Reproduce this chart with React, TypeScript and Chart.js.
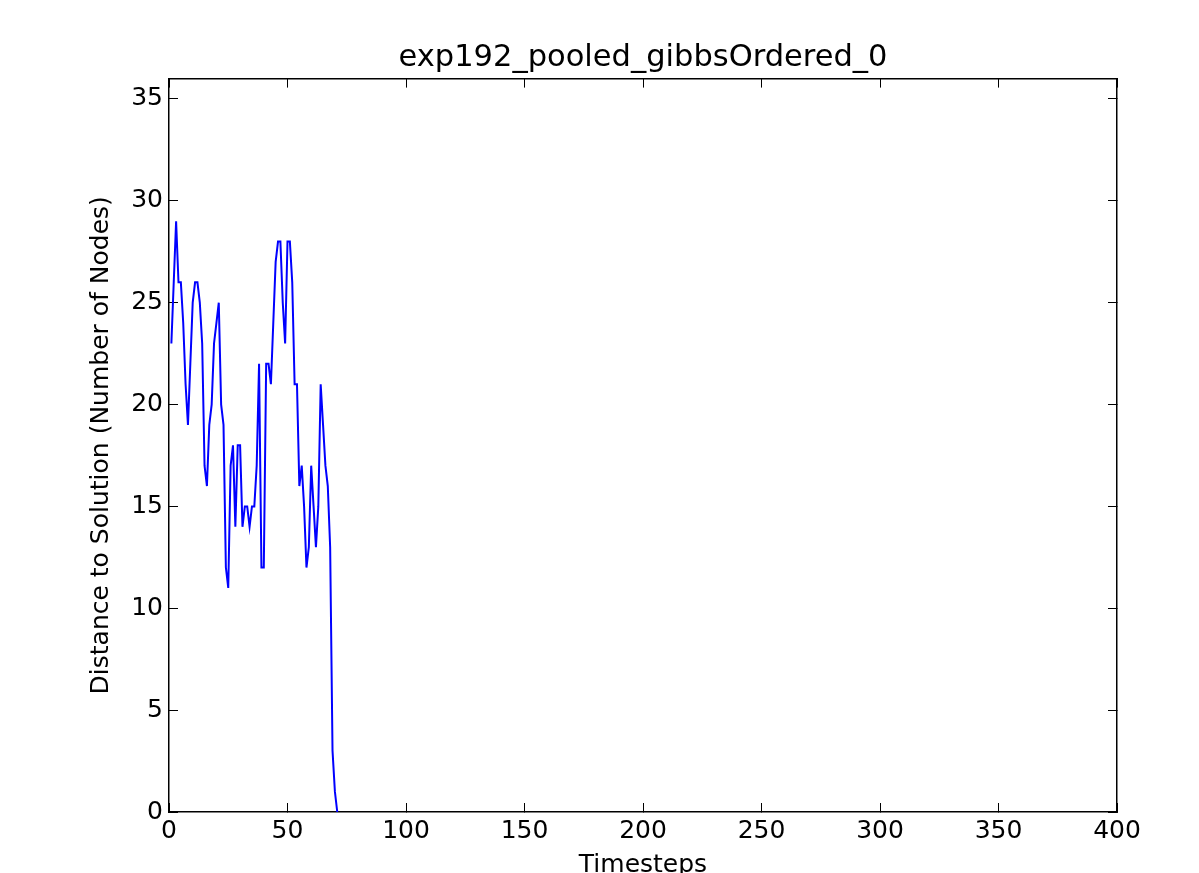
import React, { useEffect, useRef } from "react";
import { Chart, registerables } from "chart.js";

Chart.register(...registerables);

const TITLE = "exp192_pooled_gibbsOrdered_0";
const X_LABEL = "Timesteps";
const Y_LABEL = "Distance to Solution (Number of Nodes)";

const timesteps = [
  1, 2, 3, 4, 5, 6, 7, 8, 9, 10,
  11, 12, 13, 14, 15, 16, 17, 18, 19, 20,
  21, 22, 23, 24, 25, 26, 27, 28, 29, 30,
  31, 32, 33, 34, 35, 36, 37, 38, 39, 40,
  41, 42, 43, 44, 45, 46, 47, 48, 49, 50,
  51, 52, 53, 54, 55, 56, 57, 58, 59, 60,
  61, 62, 63, 64, 65, 66, 67, 68, 69, 70,
  71,
];

const distances = [
  23, 26, 29, 26, 26, 24, 21, 19, 22, 25,
  26, 26, 25, 23, 17, 16, 19, 20, 23, 24,
  25, 20, 19, 12, 11, 17, 18, 14, 18, 18,
  14, 15, 15, 14, 15, 15, 17, 22, 12, 12,
  22, 22, 21, 24, 27, 28, 28, 25, 23, 28,
  28, 26, 21, 21, 16, 17, 15, 12, 13, 17,
  15, 13, 15, 21, 19, 17, 16, 13, 3, 1,
  0,
];

const X_MIN = 0;
const X_MAX = 400;
const X_STEP = 50;
const Y_MIN = 0;
const Y_MAX = 36;
const Y_STEP = 5;

const W = 1199;
const H = 873;
const PLOT_LEFT = 169;
const PLOT_RIGHT = 1117;
const PLOT_BOTTOM = 812;
const FONT = "DejaVu Sans";

export default function App() {
  const ref = useRef<HTMLCanvasElement | null>(null);

  useEffect(() => {
    if (!ref.current) return;
    const tickGrid = {
      display: true,
      drawOnChartArea: false,
      drawTicks: true,
      tickLength: -9,
      color: "#000",
      lineWidth: 1,
    };
    const border = { display: true, color: "#000", width: 1.5 };
    const tickFont = { family: FONT, size: 25 };

    const chart = new Chart(ref.current, {
      type: "line",
      data: {
        datasets: [
          {
            data: timesteps.map((t, i) => ({ x: t, y: distances[i] })),
            borderColor: "#0000ff",
            backgroundColor: "#0000ff",
            borderWidth: 2,
            pointRadius: 0,
            tension: 0,
            fill: false,
            xAxisID: "x",
            yAxisID: "y",
          },
        ],
      },
      options: {
        animation: false,
        responsive: false,
        devicePixelRatio: 1,
        layout: { padding: 0 },
        plugins: {
          legend: { display: false },
          tooltip: { enabled: false },
          title: {
            display: true,
            text: TITLE,
            fullSize: false,
            color: "#000",
            font: { family: FONT, size: 30.5, weight: "normal" },
            padding: { top: 40, bottom: 0 },
          },
        },
        scales: {
          x: {
            type: "linear",
            position: "bottom",
            min: X_MIN,
            max: X_MAX,
            ticks: {
              stepSize: X_STEP,
              includeBounds: false,
              autoSkip: false,
              maxRotation: 0,
              padding: 13,
              color: "#000",
              font: tickFont,
            },
            grid: tickGrid,
            border,
            title: {
              display: true,
              text: X_LABEL,
              color: "#000",
              font: tickFont,
              padding: { top: 0, bottom: -7 },
            },
            afterFit: (s: any) => {
              s.height = H - PLOT_BOTTOM;
            },
          },
          x2: {
            type: "linear",
            position: "top",
            min: X_MIN,
            max: X_MAX,
            ticks: { stepSize: X_STEP, includeBounds: false, display: false },
            grid: tickGrid,
            border,
            afterFit: (s: any) => {
              s.height = 2;
            },
          },
          y: {
            type: "linear",
            position: "left",
            min: Y_MIN,
            max: Y_MAX,
            ticks: {
              stepSize: Y_STEP,
              includeBounds: false,
              padding: 15,
              color: "#000",
              font: tickFont,
            },
            grid: tickGrid,
            border,
            title: {
              display: true,
              text: Y_LABEL,
              color: "#000",
              font: tickFont,
              padding: { top: 86, bottom: 0 },
            },
            afterFit: (s: any) => {
              s.width = PLOT_LEFT;
            },
          },
          y2: {
            type: "linear",
            position: "right",
            min: Y_MIN,
            max: Y_MAX,
            ticks: { stepSize: Y_STEP, includeBounds: false, display: false },
            grid: tickGrid,
            border,
            afterFit: (s: any) => {
              s.width = W - PLOT_RIGHT;
            },
          },
        },
      },
    } as any);
    return () => chart.destroy();
  }, []);

  return (
    <div
      style={{
        position: "fixed",
        left: 0,
        top: 0,
        width: W,
        height: H,
        overflow: "hidden",
        background: "#fff",
      }}
    >
      <canvas ref={ref} width={W} height={H} style={{ display: "block" }} />
    </div>
  );
}
